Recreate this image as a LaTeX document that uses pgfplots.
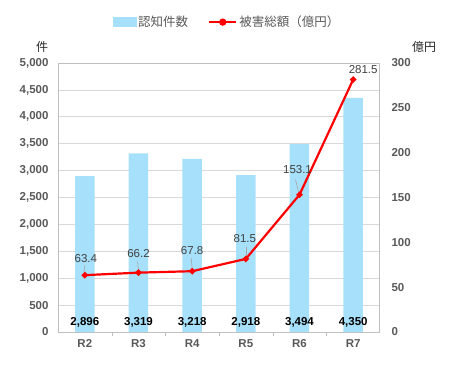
\documentclass[border=0pt]{standalone}
\usepackage{pgfplots}
\pgfplotsset{compat=1.18}
\usepackage{fontspec}
\setmainfont{Liberation Sans}
\newfontfamily\cjk{Noto Sans CJK JP}
\definecolor{barblue}{RGB}{166,224,250}
\definecolor{txtgray}{RGB}{89,89,89}
\definecolor{gridgray}{RGB}{217,217,217}
\definecolor{framegray}{RGB}{191,191,191}
\definecolor{lblgray}{RGB}{64,64,64}
\begin{document}
\begin{tikzpicture}
\useasboundingbox (0,0) rectangle (450bp,368bp);
\begin{axis}[
  at={(58bp,36bp)}, anchor=south west,
  scale only axis, width=322bp, height=269bp,
  xmin=-0.5, xmax=5.5, ymin=0, ymax=5000,
  xtick={0,1,2,3,4,5}, xticklabels={R2,R3,R4,R5,R6,R7},
  ytick={0,500,...,5000},
  axis line style={framegray, line width=1pt},
  ymajorgrids, grid style={gridgray, line width=0.8pt},
  major tick length=0pt,
  extra x ticks={0.5,1.5,2.5,3.5,4.5},
  extra x tick labels={},
  extra x tick style={major tick length=4bp, tick style={framegray}, xtick pos=bottom, tick align=outside, grid=none},
  xtick pos=bottom, ytick pos=left,
  tick label style={font=\bfseries\fontsize{11.5bp}{13bp}\selectfont, text=txtgray},
  /pgf/number format/assume math mode=true,
  /pgf/number format/1000 sep={,},
  scaled y ticks=false,
  yticklabel style={xshift=-6bp},
  xticklabel style={yshift=-4bp},
  clip=false,
]
\addplot[ybar, bar width=19.5bp, fill=barblue, draw=none] coordinates {
 (0,2896) (1,3319) (2,3218) (3,2918) (4,3494) (5,4350)};
\foreach \i/\v/\t in {0/2896/{2,896},1/3319/{3,319},2/3218/{3,218},3/2918/{2,918},4/3494/{3,494},5/4350/{4,350}} {
  \edef\tmp{\noexpand\node[font=\noexpand\bfseries\noexpand\fontsize{11.5bp}{13bp}\noexpand\selectfont, text=black] at (axis cs:\i,0) [yshift=10bp] {\t};}
  \tmp
}
\end{axis}
\begin{axis}[
  at={(58bp,36bp)}, anchor=south west,
  scale only axis, width=322bp, height=269bp,
  xmin=-0.5, xmax=5.5, ymin=0, ymax=300,
  ytick={0,50,...,300},
  axis y line*=right, axis x line=none,
  y axis line style={draw=none},
  major tick length=0pt,
  tick label style={font=\bfseries\fontsize{11.5bp}{13bp}\selectfont, text=txtgray},
  /pgf/number format/assume math mode=true,
  yticklabel style={xshift=8bp, anchor=west},
  clip=false,
  legend columns=2,
  legend style={draw=none, fill=none, at={(0.525,1.152)}, anchor=center,
    font=\cjk\fontsize{12.5bp}{14bp}\selectfont, text=txtgray,
    /tikz/every even column/.append style={column sep=18bp}},
  legend cell align=left,
]
\addlegendimage{legend image code/.code={\fill[barblue] (0bp,-4.5bp) rectangle (23bp,4.5bp);}}
\addlegendentry{認知件数}
\addplot[red, line width=2.2pt, mark=*, mark size=1.9pt, mark options={fill=red},
  legend image code/.code={\draw[red, line width=2.2pt] (0bp,0bp) -- (27bp,0bp); \fill[red] (13.5bp,0bp) circle (2.5bp);}] coordinates {
 (0,63.4) (1,66.2) (2,67.8) (3,81.5) (4,153.1) (5,281.5)};
\addlegendentry{被害総額（億円）}
\foreach \i/\v/\dx/\dy in {0/63.4/1/17,1/66.2/0/19,2/67.8/0/21,3/81.5/-1/20,4/153.1/-2/25,5/281.5/10/10} {
  \edef\tmp{\noexpand\node[font=\noexpand\fontsize{11.5bp}{13bp}\noexpand\selectfont, text=lblgray] at (axis cs:\i,\v) [xshift=\dx bp, yshift=\dy bp] {\v};}
  \tmp
}
\draw[gray!70, line width=0.6pt] (axis cs:0,63.4) ++(-1bp,3bp) -- ++(1bp,7bp);
\draw[gray!70, line width=0.6pt] (axis cs:1,66.2) ++(0bp,3bp) -- ++(-1bp,8bp);
\draw[gray!70, line width=0.6pt] (axis cs:2,67.8) ++(0bp,3bp) -- ++(-1bp,10bp);
\draw[gray!70, line width=0.6pt] (axis cs:3,81.5) ++(0bp,3bp) -- ++(0bp,9bp);
\draw[gray!70, line width=0.6pt] (axis cs:4,153.1) ++(-1bp,3bp) -- ++(-3bp,12bp);
\end{axis}
\node[font=\cjk\fontsize{12bp}{14bp}\selectfont, text=black!85] at (42bp,321bp) {件};
\node[font=\cjk\fontsize{12bp}{14bp}\selectfont, text=black!85] at (424bp,321bp) {億円};
\end{tikzpicture}
\end{document}
